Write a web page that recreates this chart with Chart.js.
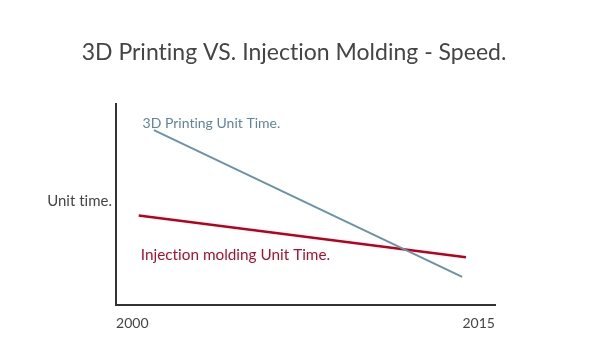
<!DOCTYPE html>
<html>
<head>
<meta charset="utf-8">
<script src="https://cdn.jsdelivr.net/npm/chart.js@4/dist/chart.umd.min.js"></script>
<style>
html,body{margin:0;padding:0;background:#fff;}
#wrap{width:610px;height:346px;}
</style>
</head>
<body>
<div id="wrap"><canvas id="c" width="610" height="346"></canvas></div>
<script>
// ---- data ----
const chartTitle = '3D Printing VS. Injection Molding - Speed.';
const yAxisLabel = 'Unit time.';
const xTickYears = [2000, 2015];
const printingYears = [2001.5, 2013.7];
const printingUnitTime = [87, 14];
const moldingYears = [2000.9, 2013.85];
const moldingUnitTime = [44.5, 23.8];
const seriesNames = ['3D Printing Unit Time.', 'Injection molding Unit Time.'];

const FONT = 'Lato, "Open Sans", sans-serif';
const BLUE_LINE = '#6b93a8';
const BLUE_TEXT = '#5f84a3';
const RED_LINE = '#b8001e';
const RED_TEXT = '#a8122e';

function pts(xs, ys){ return xs.map((x,i)=>({x:x, y:ys[i]})); }

// series name labels, anchored in data coordinates
const seriesLabels = [
  {text: seriesNames[0], x: 2001.05, y: 88.1, color: BLUE_TEXT, size: 14},
  {text: seriesNames[1], x: 2000.98, y: 22.3, color: RED_TEXT, size: 15.3}
];

const noLigatures = {
  id: 'noLigatures',
  beforeDraw(chart){
    const ctx = chart.ctx;
    try { ctx.textRendering = 'optimizeSpeed'; } catch(e) {}
    try { ctx.letterSpacing = '0.01px'; } catch(e) {}
  }
};

const labelPlugin = {
  id: 'seriesLabels',
  afterDatasetsDraw(chart){
    const ctx = chart.ctx;
    const xs = chart.scales.x, ys = chart.scales.y;
    ctx.save();
    seriesLabels.forEach(l => {
      ctx.font = l.size + 'px ' + FONT;
      ctx.fillStyle = l.color;
      ctx.textAlign = 'left';
      ctx.textBaseline = 'alphabetic';
      ctx.fillText(l.text, xs.getPixelForValue(l.x), ys.getPixelForValue(l.y));
    });
    ctx.restore();
  }
};

new Chart(document.getElementById('c'), {
  type: 'line',
  data: {
    datasets: [
      {label: seriesNames[0], data: pts(printingYears, printingUnitTime), borderColor: BLUE_LINE, borderWidth: 2, pointRadius: 0, tension: 0},
      {label: seriesNames[1], data: pts(moldingYears, moldingUnitTime), borderColor: RED_LINE, borderWidth: 2.5, pointRadius: 0, tension: 0}
    ]
  },
  options: {
    responsive: false,
    animation: false,
    layout: {padding: {left: 0, right: 22, top: 0, bottom: 0}},
    plugins: {
      legend: {display: false},
      tooltip: {enabled: false},
      title: {
        display: true,
        text: chartTitle,
        color: '#454545',
        font: {family: FONT, size: 23, weight: 'normal', lineHeight: 1.2},
        padding: {top: 39.2, bottom: 37.2}
      }
    },
    scales: {
      x: {
        type: 'linear',
        min: 2000, max: 2015,
        afterBuildTicks(s){ s.ticks = xTickYears.map(v => ({value: v})); },
        afterFit(s){ s.height = 41; },
        grid: {display: false, drawTicks: false},
        border: {display: true, color: '#333', width: 2},
        ticks: {
          align: 'inner',
          color: '#454545',
          font: {family: FONT, size: 14},
          padding: 10,
          maxRotation: 0,
          callback: v => String(v)
        }
      },
      y: {
        type: 'linear',
        min: 0, max: 100,
        afterBuildTicks(s){ s.ticks = [{value: 51.5}]; },
        afterFit(s){ s.width = 116; },
        grid: {display: false, drawTicks: false},
        border: {display: true, color: '#333', width: 2},
        ticks: {
          color: '#454545',
          font: {family: FONT, size: 15},
          padding: 4,
          callback: () => yAxisLabel
        }
      },
      yRight: {
        type: 'linear',
        position: 'right',
        min: 0, max: 100,
        afterFit(s){ s.width = 93; },
        grid: {display: false, drawTicks: false},
        border: {display: false},
        ticks: {display: false}
      }
    }
  },
  plugins: [noLigatures, labelPlugin]
});
</script>
</body>
</html>
